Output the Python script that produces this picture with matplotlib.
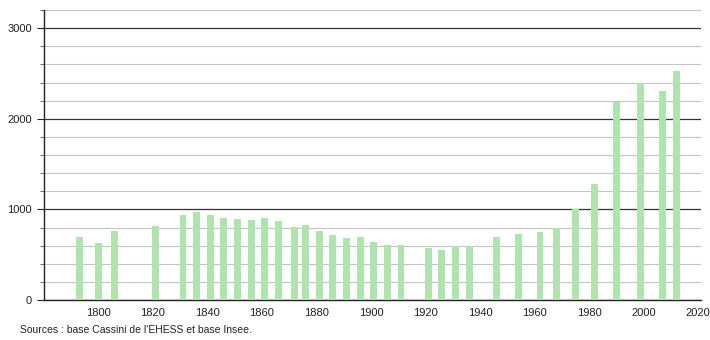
import matplotlib.pyplot as plt
from matplotlib.ticker import MultipleLocator

plt.rcParams['font.family'] = ['Liberation Sans', 'DejaVu Sans']

# census years and population
years = [1793, 1800, 1806, 1821, 1831, 1836, 1841, 1846, 1851, 1856,
         1861, 1866, 1872, 1876, 1881, 1886, 1891, 1896, 1901, 1906,
         1911, 1921, 1926, 1931, 1936, 1946, 1954, 1962, 1968, 1975,
         1982, 1990, 1999, 2007, 2012]
population = [698, 631, 764, 820, 940, 975, 940, 908, 893, 882,
              904, 871, 805, 830, 764, 720, 686, 698, 639, 609,
              609, 578, 554, 591, 591, 698, 731, 753, 794, 1008,
              1285, 2182, 2400, 2303, 2525]
xticks = [1800, 1820, 1840, 1860, 1880, 1900, 1920, 1940, 1960, 1980, 2000, 2020]
source = "Sources : base Cassini de l'EHESS et base Insee."

fig = plt.figure(figsize=(7.1, 3.4), dpi=100)
ax = fig.add_axes([0.062, 0.1176, 0.925, 0.853])

ax.bar(years, population, width=2.5, color='#b0e3b0', zorder=3)

ax.set_xlim(1780, 2021)
ax.set_ylim(0, 3200)
ax.set_xticks(xticks)
ax.yaxis.set_major_locator(MultipleLocator(1000))
ax.yaxis.set_minor_locator(MultipleLocator(200))

ax.grid(axis='y', which='minor', color='#c4c4c4', linewidth=0.8, zorder=1)
ax.grid(axis='y', which='major', color='#333333', linewidth=0.9, zorder=2)

for s in ['top', 'right']:
    ax.spines[s].set_visible(False)
for s in ['left', 'bottom']:
    ax.spines[s].set_color('#222222')
    ax.spines[s].set_linewidth(1.0)

ax.tick_params(axis='x', length=0, labelsize=8, pad=6, colors='#222222')
ax.tick_params(axis='y', which='major', length=5, labelsize=8, colors='#222222')
ax.tick_params(axis='y', which='minor', length=3, color='#555555')

fig.text(0.028, 0.02, source, fontsize=7.5, color='#222222')

fig.savefig('out.png', dpi=100)
